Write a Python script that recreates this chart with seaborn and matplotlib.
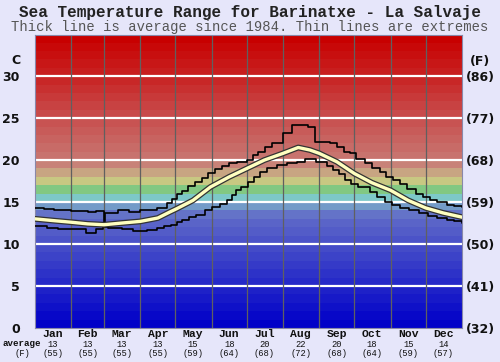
import numpy as np
import seaborn as sns
import matplotlib.pyplot as plt
import matplotlib.patheffects as pe

# day-of-year positions and temperatures (C)
avg_days = [0, 15, 31, 45, 59, 74, 90, 105, 115, 121, 135, 150, 166, 181, 196, 212, 225, 235, 243, 258, 273, 288, 304, 319, 334, 349, 365]
avg_temp = [13.0, 12.8, 12.6, 12.4, 12.3, 12.5, 12.7, 13.1, 13.8, 14.2, 15.2, 16.8, 18.0, 19.0, 20.0, 20.8, 21.5, 21.2, 20.8, 19.8, 18.4, 17.3, 16.4, 15.2, 14.3, 13.7, 13.2]

max_days = [0, 8, 16, 24, 31, 45, 52, 59, 60, 71, 80, 90, 104, 113, 117, 121, 126, 131, 137, 143, 148, 154, 160, 166, 173, 181,
            186, 191, 197, 203, 212, 220, 233, 239, 252, 258, 264, 269, 274, 282, 288, 295, 300, 306, 312, 318, 326, 332, 338, 344,
            352, 358, 365]
max_temp = [14.3, 14.2, 14.1, 14.0, 13.9, 13.8, 13.9, 12.3, 13.7, 14.1, 13.85, 14.0, 14.3, 14.9, 15.4, 16.0, 16.3, 16.9, 17.4, 17.9,
            18.5, 18.9, 19.3, 19.6, 19.8, 20.0, 20.6, 21.0, 21.6, 22.0, 23.2, 24.2, 23.9, 22.1, 22.0, 21.6, 21.0, 20.8, 20.1, 19.6,
            19.0, 18.6, 18.0, 17.6, 17.2, 16.6, 16.0, 15.6, 15.3, 15.0, 14.7, 14.5, 14.4]

min_days = [0, 10, 20, 31, 44, 52, 58, 62, 74, 84, 96, 104, 110, 116, 121, 126, 132, 138, 145, 151, 158, 164, 168, 172, 176, 182,
            187, 192, 198, 207, 215, 224, 231, 240, 250, 255, 260, 265, 270, 276, 286, 292, 299, 305, 312, 320, 328, 336, 344, 352,
            358, 365]
min_temp = [12.1, 11.9, 11.8, 11.8, 11.3, 11.8, 12.0, 11.9, 11.8, 11.6, 11.7, 11.9, 12.1, 12.3, 12.6, 12.9, 13.2, 13.5, 14.0, 14.4,
            14.8, 15.2, 15.8, 16.4, 16.8, 17.4, 18.0, 18.6, 19.0, 19.4, 19.6, 19.8, 20.1, 19.8, 19.3, 18.8, 18.3, 17.6, 17.2, 16.8,
            16.2, 15.6, 15.0, 14.6, 14.3, 14.0, 13.7, 13.4, 13.1, 12.9, 12.7, 12.5]

months = ['Jan', 'Feb', 'Mar', 'Apr', 'May', 'Jun', 'Jul', 'Aug', 'Sep', 'Oct', 'Nov', 'Dec']
month_mid = [15, 45, 74, 105, 135, 166, 196, 227, 258, 288, 319, 349]
month_start = [31, 59, 90, 120, 151, 181, 212, 243, 273, 304, 334]
month_avg_c = ['13', '13', '13', '13', '15', '18', '20', '22', '20', '18', '15', '14']
month_avg_f = ['(55)', '(55)', '(55)', '(55)', '(59)', '(64)', '(68)', '(72)', '(68)', '(64)', '(59)', '(57)']

c_ticks = [0, 5, 10, 15, 20, 25, 30]
f_labels = ['(32)', '(41)', '(50)', '(59)', '(68)', '(77)', '(86)']

# background band colours, one per degree
anchors = {0: (0, 0, 200), 12: (90, 100, 200), 13: (100, 115, 200), 14: (115, 155, 200), 15: (125, 200, 200),
           16: (130, 200, 130), 17: (200, 200, 130), 18: (200, 165, 130), 19: (200, 130, 120), 20: (200, 115, 110),
           25: (200, 75, 75), 30: (200, 30, 30), 34: (200, 0, 0)}
ak = sorted(anchors)

def band_color(t):
    rgb = [np.interp(t, ak, [anchors[k][i] for k in ak]) for i in range(3)]
    return tuple(v / 255 for v in rgb)

bg = '#e6e6fa'
sns.set_style('white')
plt.rcParams['font.family'] = ['DejaVu Sans']

fig = plt.figure(figsize=(5, 3.62), dpi=100, facecolor=bg)
ax = fig.add_axes([35 / 500, 34 / 362, 427 / 500, 293 / 362])

for t in range(35):
    ax.axhspan(t, t + 1, color=band_color(t), lw=0, zorder=0)
for t in c_ticks[1:]:
    ax.axhline(t, color='white', lw=1.6, zorder=1)
for d in month_start:
    ax.axvline(d, color='#606060', lw=0.9, zorder=1)

sns.lineplot(x=max_days, y=max_temp, drawstyle='steps-post', color='black', lw=1.2, ax=ax, zorder=3)
sns.lineplot(x=min_days, y=min_temp, drawstyle='steps-post', color='black', lw=1.2, ax=ax, zorder=3)
sns.lineplot(x=avg_days, y=avg_temp, color='#ffffc0', lw=2.4, ax=ax, zorder=4,
             path_effects=[pe.Stroke(linewidth=4.2, foreground='#333333'), pe.Normal()])

ax.set_xlim(0, 365)
ax.set_ylim(0, 34.9)
ax.set_xlabel('')
ax.set_ylabel('')
ax.set_xticks([])
ax.set_yticks(c_ticks)
ax.set_yticklabels([str(t) for t in c_ticks], fontsize=9, fontweight='bold', color='#111111')
ax.tick_params(axis='y', length=0, pad=11)
for s in ax.spines.values():
    s.set_color('#8888aa')
    s.set_linewidth(0.8)

ax2 = ax.twinx()
ax2.set_ylim(ax.get_ylim())
ax2.set_yticks(c_ticks)
ax2.set_yticklabels(f_labels, fontsize=9, fontweight='bold', color='#111111')
ax2.tick_params(axis='y', length=0, pad=3)
for s in ax2.spines.values():
    s.set_visible(False)

mono = 'Liberation Mono'
tr = ax.get_xaxis_transform()
for m, d, c, f in zip(months, month_mid, month_avg_c, month_avg_f):
    ax.text(d, -0.004, m, transform=tr, ha='center', va='top', fontsize=8.2, fontweight='bold', family=mono, color='#111111')
    ax.text(d, -0.056, c, transform=tr, ha='center', va='center', fontsize=6.3, family=mono, color='#111111')
    ax.text(d, -0.087, f, transform=tr, ha='center', va='center', fontsize=6.3, family=mono, color='#111111')

fig.text(22 / 500, 1 - 344 / 362, 'average', ha='center', va='center', fontsize=6.6, fontweight='bold', family=mono, color='#111111')
fig.text(22 / 500, 1 - 353 / 362, '(F)', ha='center', va='center', fontsize=6.3, family=mono, color='#111111')
fig.text(16 / 500, 1 - 61 / 362, 'C', ha='center', va='center', fontsize=9, fontweight='bold', color='#111111')
fig.text(480 / 500, 1 - 61 / 362, '(F)', ha='center', va='center', fontsize=9, fontweight='bold', color='#111111')

fig.text(0.5, 1 - 12 / 362, 'Sea Temperature Range for Barinatxe - La Salvaje', ha='center', va='center',
         fontsize=11.5, fontweight='bold', family=mono, color='#222222')
fig.text(0.5, 1 - 27 / 362, 'Thick line is average since 1984. Thin lines are extremes', ha='center', va='center',
         fontsize=10, family=mono, color='#555555')

fig.savefig('out.png', dpi=100, facecolor=bg)
